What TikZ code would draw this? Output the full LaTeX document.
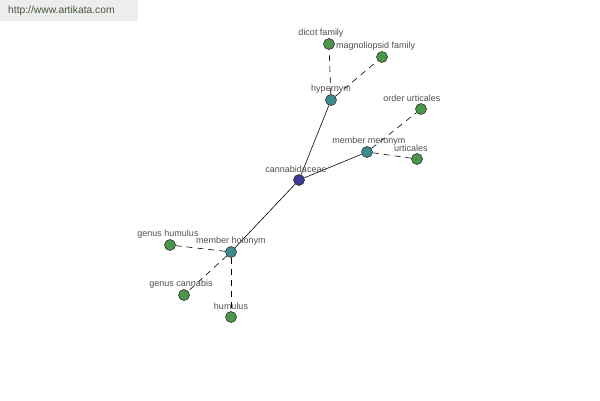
\documentclass[tikz,border=0pt]{standalone}
\usepackage{fontspec}
\setmainfont{Liberation Sans}
\definecolor{leafc}{RGB}{76,150,76}
\definecolor{midc}{RGB}{60,140,140}
\definecolor{rootc}{RGB}{60,60,150}
\definecolor{urlc}{RGB}{70,85,60}
\definecolor{labc}{RGB}{80,80,80}
\begin{document}
\begin{tikzpicture}[x=1pt,y=-1pt,
  dot/.style={circle,draw=black!80,line width=0.6pt,minimum size=11pt,inner sep=0pt},
  leaf/.style={dot,fill=leafc},
  mid/.style={dot,fill=midc},
  root/.style={dot,fill=rootc},
  lab/.style={text=labc,font=\fontsize{9}{9}\selectfont,inner sep=0pt},
  solidedge/.style={draw=black,line width=0.6pt},
  dashedge/.style={draw=black,line width=0.6pt,dash pattern=on 6pt off 5pt}]
\useasboundingbox (0,0) rectangle (600,400);
\fill[white] (0,0) rectangle (600,400);
\fill[black!7] (0,0) rectangle (138,21);
\node[text=urlc,font=\fontsize{10.3}{10.3}\selectfont,anchor=west,inner sep=0pt] (url) at (8,11) {http://www.artikata.com};
% nodes
\node[root] (can) at (299,180) {};
\node[mid] (hyp) at (331,100) {};
\node[mid] (mer) at (367,152) {};
\node[mid] (hol) at (231,252) {};
\node[leaf] (dic) at (329,44) {};
\node[leaf] (mag) at (382,57) {};
\node[leaf] (ord) at (421,109) {};
\node[leaf] (urt) at (417,159) {};
\node[leaf] (ghu) at (170,245) {};
\node[leaf] (gca) at (184,295) {};
\node[leaf] (hum) at (231,317) {};
% edges
\path[solidedge] (can) -- (hyp);
\path[solidedge] (can) -- (mer);
\path[solidedge] (can) -- (hol);
\path[dashedge] (hyp) -- (dic);
\path[dashedge] (hyp) -- (mag);
\path[dashedge] (mer) -- (ord);
\path[dashedge] (mer) -- (urt);
\path[dashedge] (hol) -- (ghu);
\path[dashedge] (hol) -- (gca);
\path[dashedge] (hol) -- (hum);
% labels
\node[lab] (ldic) at (321,33) {dicot family};
\node[lab,anchor=west] (lmag) at (336,46) {magnoliopsid family};
\node[lab] (lhyp) at (331,89) {hypernym};
\node[lab] (lord) at (412,98) {order urticales};
\node[lab] (lmer) at (369,141) {member meronym};
\node[lab,anchor=west] (lurt) at (394,148) {urticales};
\node[lab] (lcan) at (296,169) {cannabidaceae};
\node[lab] (lghu) at (168,234) {genus humulus};
\node[lab] (lhol) at (231,241) {member holonym};
\node[lab] (lgca) at (181,284) {genus cannabis};
\node[lab] (lhum) at (231,306) {humulus};
\end{tikzpicture}
\end{document}
